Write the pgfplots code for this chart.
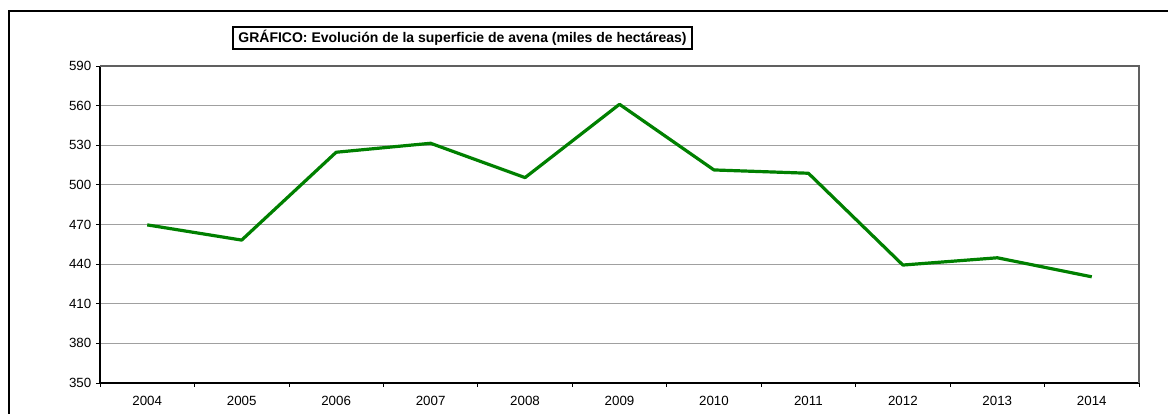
\documentclass[border=0pt]{standalone}
\usepackage{fontspec}
\setmainfont{Liberation Sans}
\usepackage{pgfplots}
\pgfplotsset{compat=1.18}
\definecolor{serie}{HTML}{008000}
\definecolor{gridc}{HTML}{A0A0A0}
\definecolor{frameg}{HTML}{606060}
\begin{document}
\begin{tikzpicture}[x=0.75pt,y=0.75pt]
\clip (0,0) rectangle (1168,414);
\draw[line width=1.5pt] (9.3,-20) -- (9.3,402.5) -- (1200,402.5);
\begin{axis}[
  at={(75pt,23.25pt)}, anchor=south west,
  scale only axis, width=779.25pt, height=237.75pt,
  xmin=-0.5, xmax=10.5, ymin=350, ymax=590,
  xtick={0,...,10},
  xticklabels={2004,2005,2006,2007,2008,2009,2010,2011,2012,2013,2014},
  minor xtick={-0.5,0.5,...,10.5},
  ytick={350,380,...,590},
  tick align=outside,
  major tick length=3pt, minor tick length=3pt,
  xtick style={draw=none},
  minor x tick style={draw=black, line width=0.6pt},
  ytick style={draw=black, line width=0.6pt},
  axis x line*=bottom, axis y line*=left,
  axis line style={line width=1pt, black, -},
  xmajorgrids=false, xminorgrids=false,
  ymajorgrids=true, major grid style={draw=gridc, line width=0.8pt},
  tick label style={font=\fontsize{10}{12}\selectfont},
  xticklabel style={yshift=-3.5pt},
  /pgf/number format/assume math mode=true,
  /pgf/number format/1000 sep={},
  clip=false,
]
\draw[frameg, line width=0.9pt] (rel axis cs:0,1) -- (rel axis cs:1,1) -- (rel axis cs:1,0);
\addplot[serie, line width=2.4pt, line join=round] coordinates {
(0,469.7) (1,458.2) (2,524.7) (3,531.5) (4,505.5) (5,561.0)
(6,511.3) (7,508.8) (8,439.3) (9,444.8) (10,430.4)
};
\end{axis}
\node[draw, line width=1.5pt, inner xsep=4pt, inner ysep=0pt, minimum height=16.5pt,
  font=\bfseries\fontsize{10.5}{12}\selectfont] at (462.5,376)
  {GRÁFICO: Evolución de la superficie de avena (miles de hectáreas)};
\end{tikzpicture}
\end{document}
